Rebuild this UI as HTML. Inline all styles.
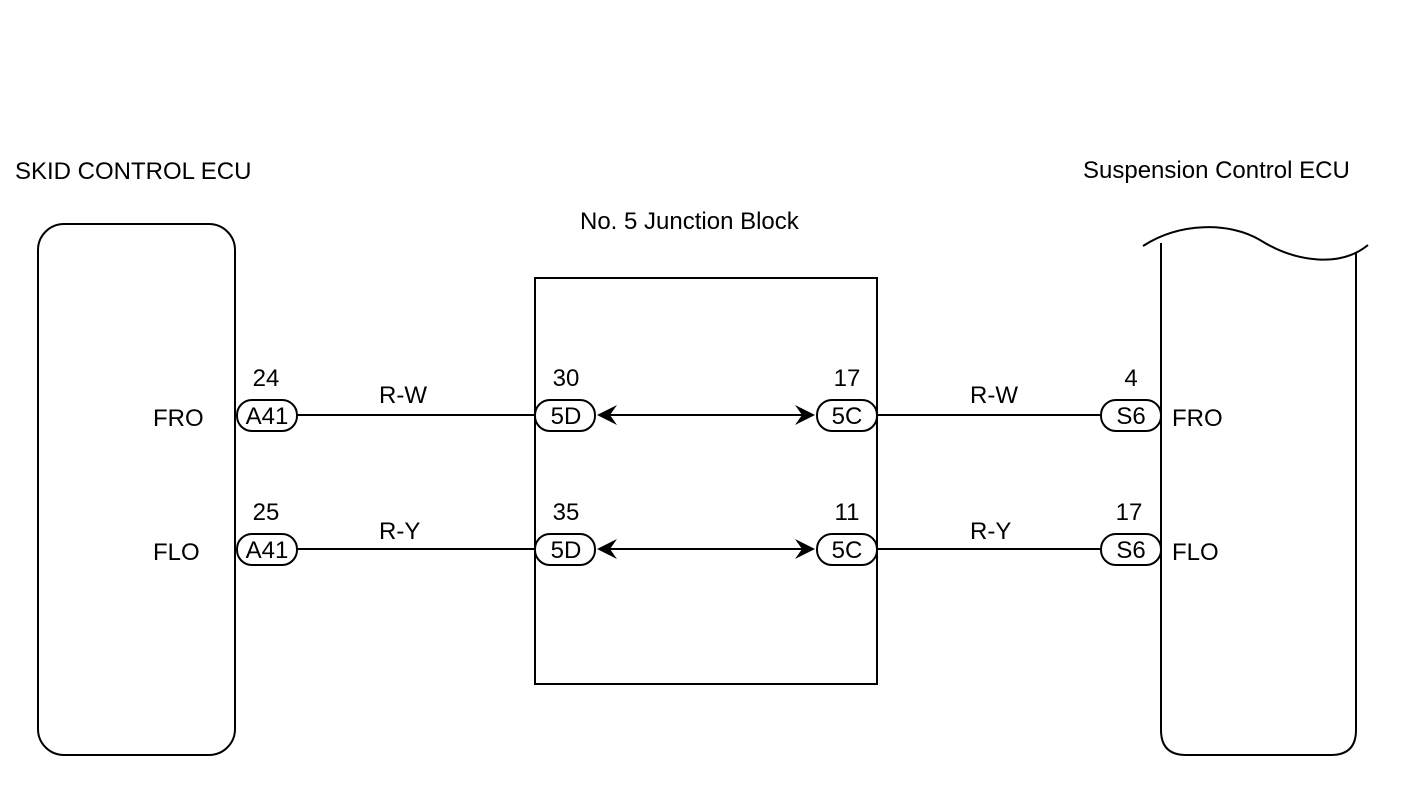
<!DOCTYPE html>
<html><head><style>
body{margin:0;background:#fff;}
svg{display:block;}
text{font-family:"Liberation Sans",Arial,sans-serif;fill:#000;}
</style></head><body>
<svg width="1408" height="796" viewBox="0 0 1408 796" xmlns="http://www.w3.org/2000/svg">
<g fill="none" stroke="#000" stroke-width="2">
<rect x="38" y="224" width="197" height="531" rx="26" ry="26"/>
<rect x="535" y="278" width="342" height="406"/>
<path d="M1161 243 L1161 730 Q1161 755 1186 755 L1331 755 Q1356 755 1356 730 L1356 253"/>
<path d="M1143 246 C1180 222 1230 222 1260 240 C1295 262 1340 268 1368 245"/>
<line x1="297" y1="415" x2="535" y2="415"/>
<line x1="297" y1="549" x2="535" y2="549"/>
<line x1="605" y1="415" x2="807" y2="415"/>
<line x1="605" y1="549" x2="807" y2="549"/>
<line x1="877" y1="415" x2="1101" y2="415"/>
<line x1="877" y1="549" x2="1101" y2="549"/>
<rect x="237" y="400" width="60" height="31" rx="15"/>
<rect x="237" y="534" width="60" height="31" rx="15"/>
<rect x="535" y="400" width="60" height="31" rx="15"/>
<rect x="535" y="534" width="60" height="31" rx="15"/>
<rect x="817" y="400" width="60" height="31" rx="15"/>
<rect x="817" y="534" width="60" height="31" rx="15"/>
<rect x="1101" y="400" width="60" height="31" rx="15"/>
<rect x="1101" y="534" width="60" height="31" rx="15"/>
</g>
<g fill="#000">
<path d="M597 415 L617 405 L610 415 L617 425 Z"/>
<path d="M597 549 L617 539 L610 549 L617 559 Z"/>
<path d="M815 415 L795 405 L802 415 L795 425 Z"/>
<path d="M815 549 L795 539 L802 549 L795 559 Z"/>
</g>
<g font-size="24">
<text x="15" y="179">SKID CONTROL ECU</text>
<text x="1083" y="178">Suspension Control ECU</text>
<text x="580" y="229">No. 5 Junction Block</text>
<text x="153" y="426">FRO</text>
<text x="153" y="560">FLO</text>
<text x="1172" y="426">FRO</text>
<text x="1172" y="560">FLO</text>
<text x="379" y="403">R-W</text>
<text x="379" y="539">R-Y</text>
<text x="970" y="403">R-W</text>
<text x="970" y="539">R-Y</text>
<g text-anchor="middle">
<text x="266" y="386">24</text>
<text x="266" y="520">25</text>
<text x="566" y="386">30</text>
<text x="566" y="520">35</text>
<text x="847" y="386">17</text>
<text x="847" y="520">11</text>
<text x="1131" y="386">4</text>
<text x="1129" y="520">17</text>
<text x="267" y="424">A41</text>
<text x="267" y="558">A41</text>
<text x="566" y="424">5D</text>
<text x="566" y="558">5D</text>
<text x="847" y="424">5C</text>
<text x="847" y="558">5C</text>
<text x="1131" y="424">S6</text>
<text x="1131" y="558">S6</text>
</g>
</g>
</svg>
</body></html>
